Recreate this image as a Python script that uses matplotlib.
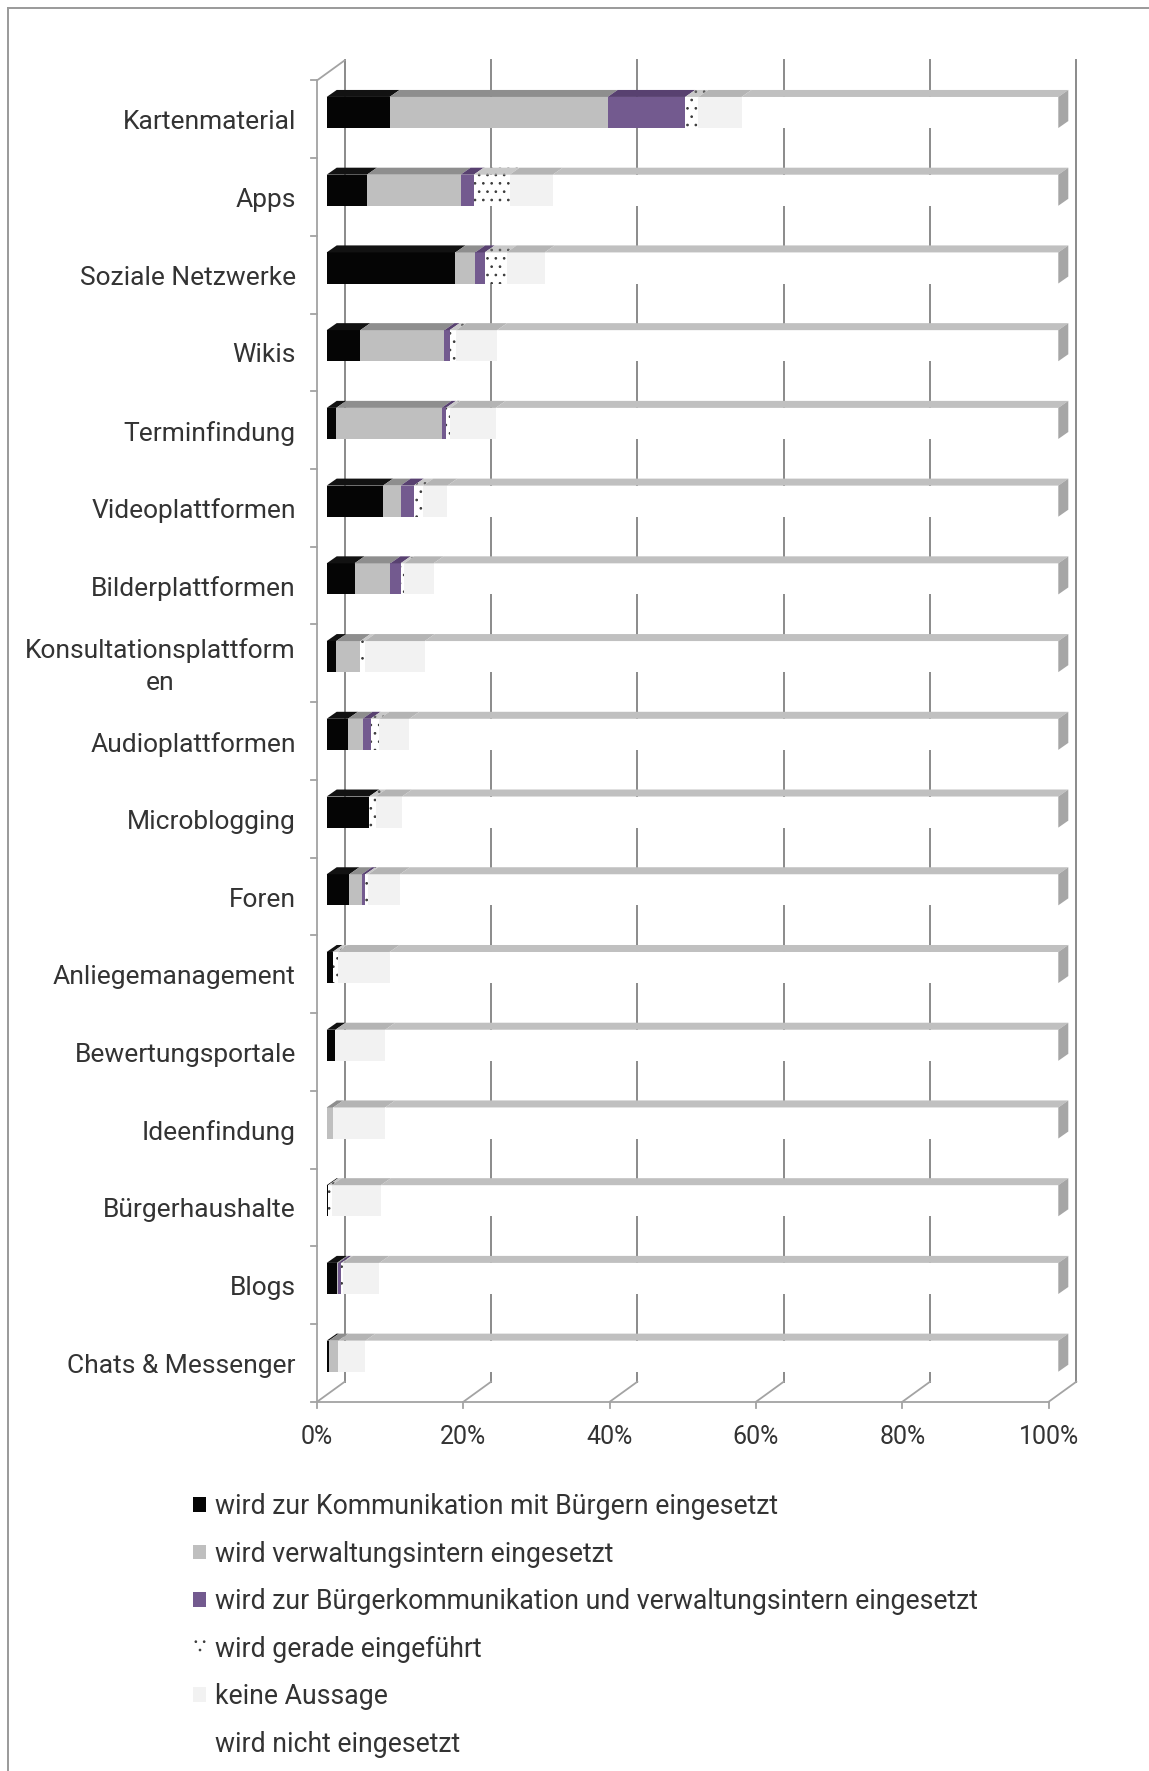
import matplotlib
matplotlib.use("Agg")
import matplotlib.pyplot as plt
from matplotlib.lines import Line2D
from matplotlib.patches import Polygon
import numpy as np

# Nutzung von Social-Media-/Web-2.0-Werkzeugen in Verwaltungen (Anteile in %)
CATEGORIES = [
    "Kartenmaterial", "Apps", "Soziale Netzwerke", "Wikis", "Terminfindung",
    "Videoplattformen", "Bilderplattformen", "Konsultationsplattform\nen",
    "Audioplattformen", "Microblogging", "Foren", "Anliegemanagement",
    "Bewertungsportale", "Ideenfindung", "Bürgerhaushalte", "Blogs",
    "Chats & Messenger",
]
SERIES = [
    "wird zur Kommunikation mit Bürgern eingesetzt",
    "wird verwaltungsintern eingesetzt",
    "wird zur Bürgerkommunikation und verwaltungsintern eingesetzt",
    "wird gerade eingeführt",
    "keine Aussage",
    "wird nicht eingesetzt",
]
KOMMUNIKATION = [8.6, 5.5, 17.6, 4.6, 1.3, 7.7, 3.8, 1.3, 2.9, 5.8, 3.1, 0.8, 1.2, 0.0, 0.2, 1.4, 0.3]
INTERN = [29.8, 12.8, 2.7, 11.5, 14.4, 2.4, 4.9, 3.3, 2.0, 0.0, 1.7, 0.0, 0.0, 0.9, 0.0, 0.2, 1.3]
BEIDES = [10.6, 1.8, 1.3, 0.7, 0.6, 1.8, 1.4, 0.0, 1.1, 0.0, 0.5, 0.0, 0.0, 0.0, 0.0, 0.4, 0.0]
EINFUEHRUNG = [1.8, 4.9, 3.0, 0.9, 0.6, 1.3, 0.5, 0.6, 1.2, 0.9, 0.4, 0.7, 0.0, 0.0, 0.5, 0.2, 0.0]
KEINE_AUSSAGE = [5.9, 5.9, 5.2, 5.6, 6.2, 3.3, 4.0, 8.2, 4.1, 3.6, 4.3, 7.1, 6.8, 7.1, 6.7, 5.0, 3.7]
TICKS = [0, 20, 40, 60, 80, 100]
TICK_LABELS = ["0%", "20%", "40%", "60%", "80%", "100%"]

FRONT_COLORS = ["#050505", "#bfbfbf", "#735a8f", "#ffffff", "#f2f2f2", "#ffffff"]
TOP_COLORS = ["#121212", "#8e8e8e", "#584170", "#c8c8c8", "#b4b4b4", "#c0c0c0"]
HATCHES = [None, None, None, "..", None, None]
END_COLOR = "#a6a6a6"
GRID = "#8a8a8a"
AXIS = "#a3a3a3"
BORDER = "#9a9a9a"
TEXT = "#333333"

W, H, DPI = 1149, 1771, 100
PX_PCT = 7.316          # pixels per percent on the bar front plane
PX_CAT = 77.73          # pixels per category row
X0, Y0 = 326.7, 112.5   # pixel of 0 % and of the first row centre
BAR_H = 0.4
# pseudo-3D depth offsets (pixels; x right, y down) relative to bar front plane
BAR_DEPTH = (10.0, -7.0)
FLOOR_FRONT = (-9.6, 6.7)
WALL_BACK = (18.0, -13.3)

plt.rcParams["font.family"] = ["Roboto", "DejaVu Sans"]
plt.rcParams["font.weight"] = "normal"
plt.rcParams["hatch.linewidth"] = 0.7
plt.rcParams["hatch.color"] = "#3a3a3a"


def off(p):
    return p[0] / PX_PCT, p[1] / PX_CAT


fig = plt.figure(figsize=(W / DPI, H / DPI), dpi=DPI, facecolor="white")
ax = fig.add_axes([0, 0, 1, 1])
ax.set_xlim(-X0 / PX_PCT, (W - X0) / PX_PCT)
ax.set_ylim((H - Y0) / PX_CAT, -Y0 / PX_CAT)
ax.axis("off")

n = len(CATEGORIES)
y = np.arange(n)
bdx, bdy = off(BAR_DEPTH)
fdx, fdy = off(FLOOR_FRONT)
wdx, wdy = off(WALL_BACK)

# back wall gridlines and floor
top_b, bot_b = -0.5, n - 0.5
for t in TICKS:
    ax.plot([t + wdx, t + wdx], [top_b + wdy, bot_b + wdy], color=GRID, lw=1.4, zorder=1)
    ax.plot([t + wdx, t + fdx], [bot_b + wdy, bot_b + fdy], color=AXIS, lw=1.3, zorder=1)
    ax.plot([t + fdx, t + fdx], [bot_b + fdy, bot_b + fdy + 6 / PX_CAT], color=AXIS, lw=1.3, zorder=1)
ax.plot([0 + fdx, 100 + fdx], [bot_b + fdy, bot_b + fdy], color=AXIS, lw=1.3, zorder=1)

# left wall edge with category ticks
ax.plot([fdx, fdx], [top_b + fdy, bot_b + fdy], color=AXIS, lw=1.3, zorder=1)
ax.plot([fdx, wdx], [top_b + fdy, top_b + wdy], color=AXIS, lw=1.3, zorder=1)
for b in np.arange(-0.5, n, 1.0):
    ax.plot([fdx - 6 / PX_PCT, fdx], [b + fdy, b + fdy], color=AXIS, lw=1.3, zorder=1)

# stacked pseudo-3D bars
values = np.array([KOMMUNIKATION, INTERN, BEIDES, EINFUEHRUNG, KEINE_AUSSAGE])
segments = np.vstack([values, 100 - values.sum(axis=0)])
left = np.zeros(n)
containers = []
for k in range(len(SERIES)):
    hatched = HATCHES[k] is not None
    edge = "#3a3a3a" if hatched else FRONT_COLORS[k]
    c = ax.barh(y, segments[k], left=left, height=BAR_H, color=FRONT_COLORS[k],
                hatch=HATCHES[k], edgecolor=edge, linewidth=0, zorder=3, label=SERIES[k])
    containers.append(c)
    for yi, a, w in zip(y, left, segments[k]):
        if w <= 0:
            continue
        top = yi - BAR_H / 2
        face = Polygon([(a, top), (a + w, top), (a + w + bdx, top + bdy), (a + bdx, top + bdy)],
                       closed=True, facecolor=TOP_COLORS[k], edgecolor="#5a5a5a" if hatched else TOP_COLORS[k],
                       hatch=HATCHES[k], linewidth=0, zorder=3)
        ax.add_patch(face)
    left = left + segments[k]

for yi, total in zip(y, left):
    top, bot = yi - BAR_H / 2, yi + BAR_H / 2
    ax.add_patch(Polygon([(total, top), (total + bdx, top + bdy), (total + bdx, bot + bdy), (total, bot)],
                         closed=True, facecolor=END_COLOR, linewidth=0, zorder=3))

# labels
for yi, cat in zip(y, CATEGORIES):
    ax.text((295.8 - X0) / PX_PCT, yi + 0.125, cat, ha="right", va="center",
            multialignment="center", linespacing=1.4, fontsize=19, color=TEXT)
for t, lab in zip(TICKS, TICK_LABELS):
    ax.text(t + fdx, bot_b + fdy + 35 / PX_CAT, lab, ha="center", va="center",
            fontsize=18, color=TEXT)

ax.legend(handles=containers, loc="upper left", bbox_to_anchor=(193 / W, 1 - 1493 / H),
          bbox_transform=fig.transFigure, frameon=False, fontsize=19.2,
          handlelength=0.48, handleheight=0.48, handletextpad=0.33, labelspacing=0.77,
          borderpad=0, borderaxespad=0, labelcolor=TEXT)

# outer frame (left and top edges visible)
fig.add_artist(Line2D([7.5 / W, 7.5 / W], [0, 1 - 7.5 / H], color=BORDER, lw=1.4, transform=fig.transFigure))
fig.add_artist(Line2D([7.5 / W, 1], [1 - 7.5 / H, 1 - 7.5 / H], color=BORDER, lw=1.4, transform=fig.transFigure))

fig.savefig("out.png", dpi=DPI, facecolor="white")
